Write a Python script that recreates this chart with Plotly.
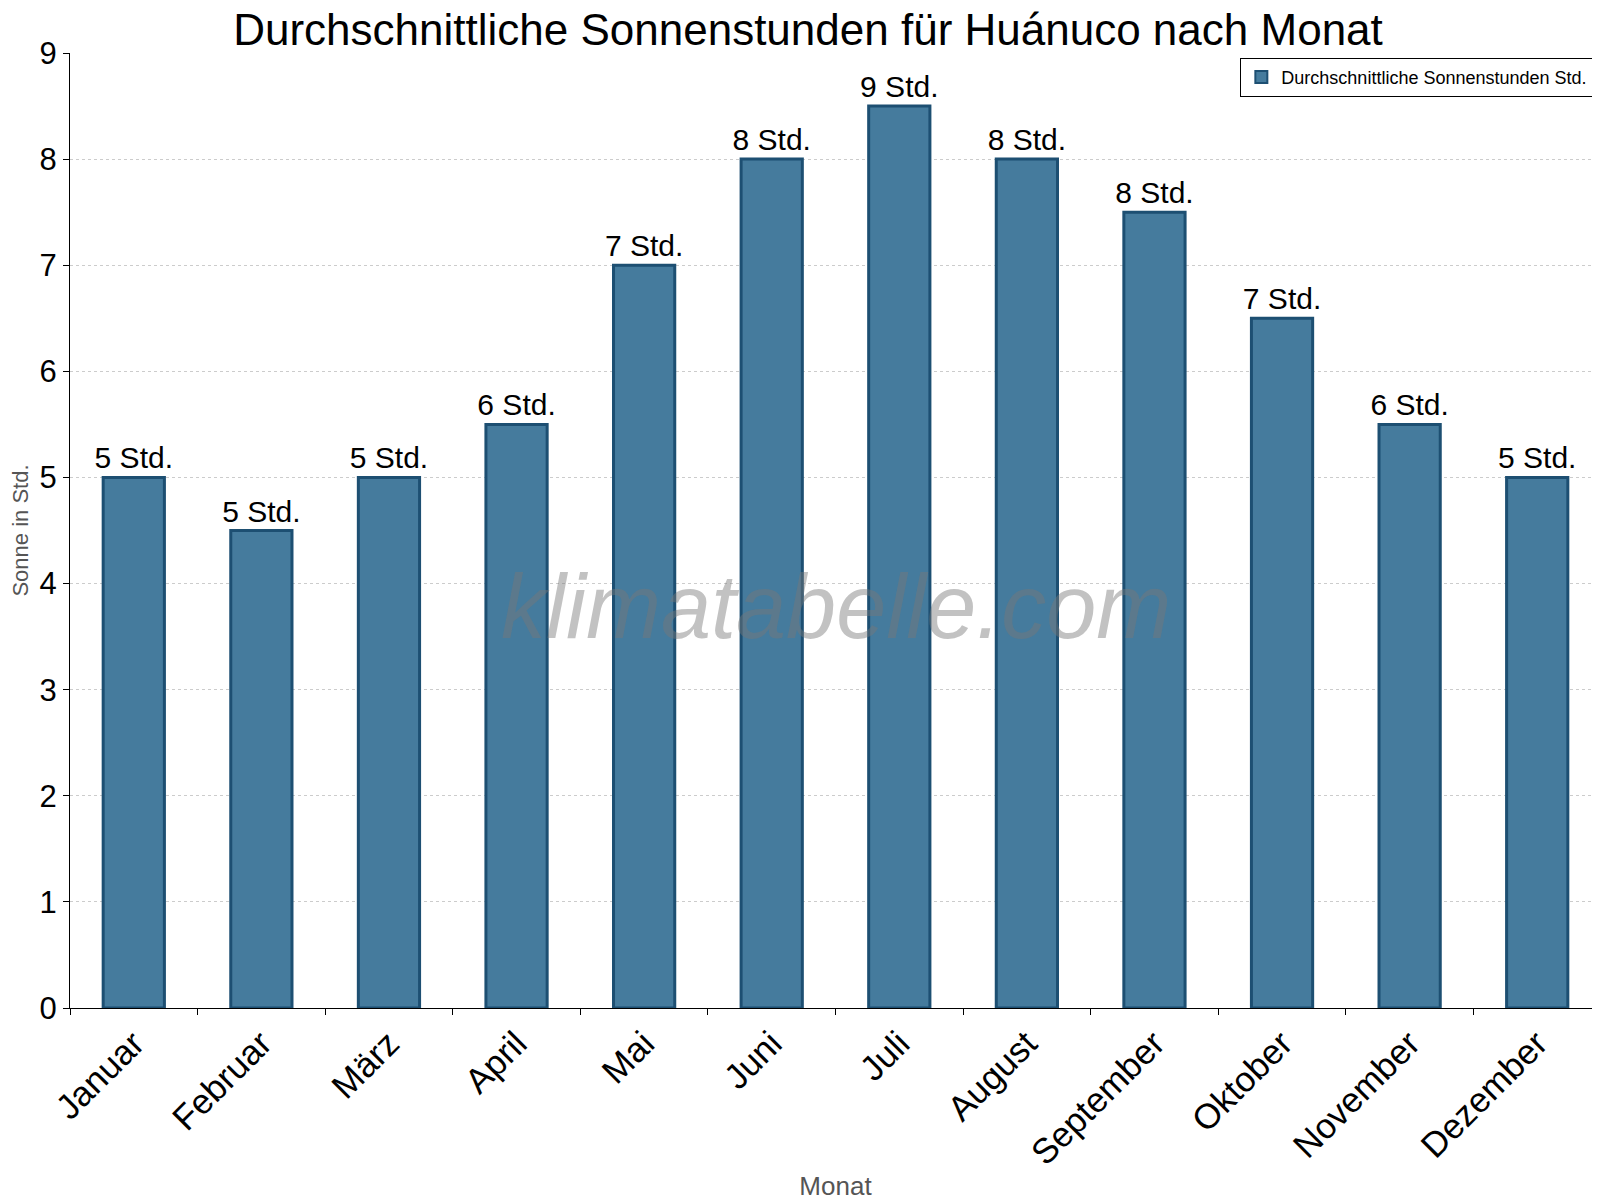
import plotly.graph_objects as go

months = ["Januar","Februar","März","April","Mai","Juni","Juli","August","September","Oktober","November","Dezember"]
sun = [5, 4.5, 5, 5.5, 7, 8, 8.5, 8, 7.5, 6.5, 5.5, 5]
labels = ["5 Std.","5 Std.","5 Std.","6 Std.","7 Std.","8 Std.","9 Std.","8 Std.","8 Std.","7 Std.","6 Std.","5 Std."]

fig = go.Figure()
fig.add_trace(go.Bar(
    x=months, y=sun, text=labels, textposition="outside", constraintext="none",
    textfont=dict(size=30, color="black", family="Liberation Sans, Arial"),
    marker=dict(color="#457b9d", line=dict(color="#1d4f72", width=3)),
    width=0.48, name="Durchschnittliche Sonnenstunden Std.", cliponaxis=False))

fig.update_layout(
    width=1600, height=1200, plot_bgcolor="white", paper_bgcolor="white",
    font=dict(family="Liberation Sans, Arial", color="black"),
    title=dict(text="Durchschnittliche Sonnenstunden für Huánuco nach Monat", x=0.5, y=0.982,
               xanchor="center", yanchor="middle", font=dict(size=44, color="black")),
    margin=dict(l=62, r=7, t=45, b=200),
    showlegend=True,
    legend=dict(x=0.995, y=0.995, xanchor="right", yanchor="top", bordercolor="black",
                borderwidth=1, bgcolor="white", font=dict(size=18), itemsizing="constant"),
    xaxis=dict(title=dict(text="Monat", font=dict(size=26, color="#555"), standoff=5), tickangle=-45,
               tickfont=dict(size=35), showline=True, linecolor="black", ticks="outside",
               tickson="boundaries", ticklen=6, tickcolor="black"),
    yaxis=dict(title=dict(text="Sonne in Std.", font=dict(size=22, color="#555"), standoff=4),
               range=[0, 9], dtick=1, tickfont=dict(size=31), showline=True, linecolor="black",
               ticks="outside", ticklen=6, tickcolor="black",
               gridcolor="#cccccc", griddash="dot", zeroline=False),
    annotations=[dict(text="<i>klimatabelle.com</i>", x=0.5, y=0.42, xref="paper", yref="paper",
                      showarrow=False, font=dict(size=90, color="rgba(120,120,120,0.45)"))]
)
fig.write_html("out.html")
